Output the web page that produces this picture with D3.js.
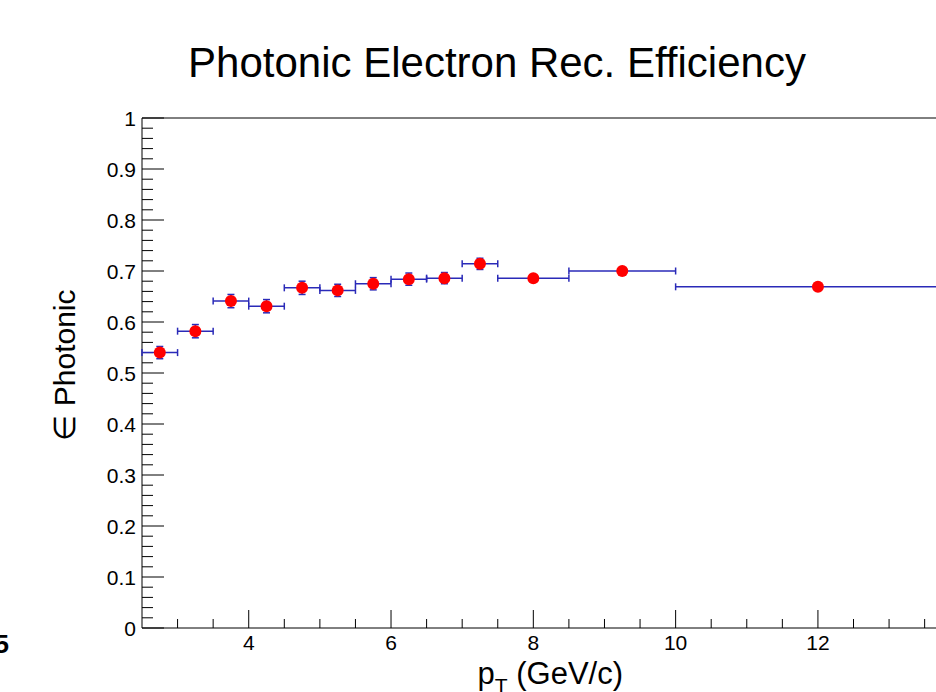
<!DOCTYPE html>
<html>
<head>
<meta charset="utf-8">
<script src="https://cdn.jsdelivr.net/npm/d3@7"></script>
<style>
  body { margin: 0; background: #fff; }
  svg { display: block; font-family: "Liberation Sans", Arial, sans-serif; }
</style>
</head>
<body>
<div id="chart"></div>
<script>
// bins in pT (GeV/c) and the efficiency per bin
const binLow  = [2.5, 3.0, 3.5, 4.0, 4.5, 5.0, 5.5, 6.0, 6.5, 7.0, 7.5, 8.5, 10.0];
const binHigh = [3.0, 3.5, 4.0, 4.5, 5.0, 5.5, 6.0, 6.5, 7.0, 7.5, 8.5, 10.0, 14.0];
const ptCenter = [2.75, 3.25, 3.75, 4.25, 4.75, 5.25, 5.75, 6.25, 6.75, 7.25, 8.0, 9.25, 12.0];
const effValue = [0.540, 0.582, 0.641, 0.631, 0.667, 0.662, 0.675, 0.684, 0.686, 0.714, 0.686, 0.700, 0.669];
const effError = [0.012, 0.013, 0.013, 0.013, 0.013, 0.012, 0.012, 0.012, 0.011, 0.011, 0.005, 0.004, 0.004];

const xTicks = [4, 6, 8, 10, 12];
const yTicks = [0, 0.1, 0.2, 0.3, 0.4, 0.5, 0.6, 0.7, 0.8, 0.9, 1];

const width = 936, height = 692;
const margin = {top: 118, bottom: 64, left: 142};

const points = ptCenter.map((x, i) => ({
    x: x, lo: binLow[i], hi: binHigh[i], y: effValue[i], err: effError[i]
}));

const svg = d3.select("#chart").append("svg")
    .attr("width", width)
    .attr("height", height);

const x = d3.scaleLinear()
    .domain([2.5, 14.5])
    .range([margin.left, margin.left + 12 * 71.15]);

const y = d3.scaleLinear()
    .domain([0, 1])
    .range([height - margin.bottom, margin.top]);

// frame
svg.append("line")
    .attr("x1", x(2.5)).attr("x2", width)
    .attr("y1", y(1)).attr("y2", y(1))
    .attr("stroke", "#000").attr("stroke-width", 1);

// x axis, ticks pointing up into the frame
const xMinor = d3.range(3, 14.5, 0.5).filter(v => v % 2 !== 0);
const xMajor = d3.range(4, 15, 2);
const xAxis = svg.append("g")
    .attr("transform", `translate(0,${y(0)})`);
xAxis.append("line")
    .attr("x1", x(2.5)).attr("x2", width)
    .attr("stroke", "#000");
xAxis.selectAll(".minor").data(xMinor).join("line")
    .attr("x1", d => x(d)).attr("x2", d => x(d))
    .attr("y1", 0).attr("y2", -9)
    .attr("stroke", "#000");
xAxis.selectAll(".major").data(xMajor).join("line")
    .attr("x1", d => x(d)).attr("x2", d => x(d))
    .attr("y1", 0).attr("y2", -18)
    .attr("stroke", "#000");
xAxis.selectAll("text").data(xTicks).join("text")
    .attr("x", d => x(d))
    .attr("y", 22)
    .attr("text-anchor", "middle")
    .attr("font-size", 21)
    .text(d => d);

// y axis, ticks pointing right into the frame
const yMinor = d3.range(0, 1.001, 0.02).filter(v => Math.round(v * 50) % 5 !== 0);
const yAxis = svg.append("g")
    .attr("transform", `translate(${x(2.5)},0)`);
yAxis.append("line")
    .attr("y1", y(0)).attr("y2", y(1))
    .attr("stroke", "#000");
yAxis.selectAll(".minor").data(yMinor).join("line")
    .attr("y1", d => y(d)).attr("y2", d => y(d))
    .attr("x1", 0).attr("x2", 11)
    .attr("stroke", "#000");
yAxis.selectAll(".major").data(yTicks).join("line")
    .attr("y1", d => y(d)).attr("y2", d => y(d))
    .attr("x1", 0).attr("x2", 22)
    .attr("stroke", "#000");
yAxis.selectAll("text").data(yTicks).join("text")
    .attr("x", -6)
    .attr("y", d => y(d) + 7.5)
    .attr("text-anchor", "end")
    .attr("font-size", 21)
    .text(d => d3.format("~g")(d));

// error bars
const errColor = "#2a2ab8";
const bars = svg.append("g")
    .attr("stroke", errColor)
    .attr("stroke-width", 1.5)
    .attr("fill", "none");
points.forEach(d => {
    bars.append("line")
        .attr("x1", x(d.lo)).attr("x2", x(d.hi))
        .attr("y1", y(d.y)).attr("y2", y(d.y));
    [d.lo, d.hi].forEach(e => {
        bars.append("line")
            .attr("x1", x(e)).attr("x2", x(e))
            .attr("y1", y(d.y) - 3.5).attr("y2", y(d.y) + 3.5);
    });
    bars.append("line")
        .attr("x1", x(d.x)).attr("x2", x(d.x))
        .attr("y1", y(d.y - d.err)).attr("y2", y(d.y + d.err));
    [d.y - d.err, d.y + d.err].forEach(e => {
        bars.append("line")
            .attr("x1", x(d.x) - 3.5).attr("x2", x(d.x) + 3.5)
            .attr("y1", y(e)).attr("y2", y(e));
    });
});

// markers
svg.append("g")
    .selectAll("circle")
    .data(points)
    .join("circle")
    .attr("cx", d => x(d.x))
    .attr("cy", d => y(d.y))
    .attr("r", 6)
    .attr("fill", "#ff0000");

// title
svg.append("text")
    .attr("x", 497)
    .attr("y", 77)
    .attr("text-anchor", "middle")
    .attr("font-size", 42)
    .text("Photonic Electron Rec. Efficiency");

// axis titles
const xTitle = svg.append("text")
    .attr("x", 623)
    .attr("y", 684)
    .attr("text-anchor", "end")
    .attr("font-size", 31);
xTitle.append("tspan").text("p");
xTitle.append("tspan").attr("font-size", 21).attr("dy", 9).text("T");
xTitle.append("tspan").attr("dy", -9).text(" (GeV/c)");

svg.append("text")
    .attr("transform", "translate(75,365) rotate(-90)")
    .attr("text-anchor", "middle")
    .attr("font-size", 30)
    .text("\u2208 Photonic");

// stray label from the neighbouring pad
svg.append("text")
    .attr("x", 9)
    .attr("y", 653)
    .attr("text-anchor", "end")
    .attr("font-size", 26)
    .attr("font-weight", "bold")
    .text("5");
</script>
</body>
</html>
